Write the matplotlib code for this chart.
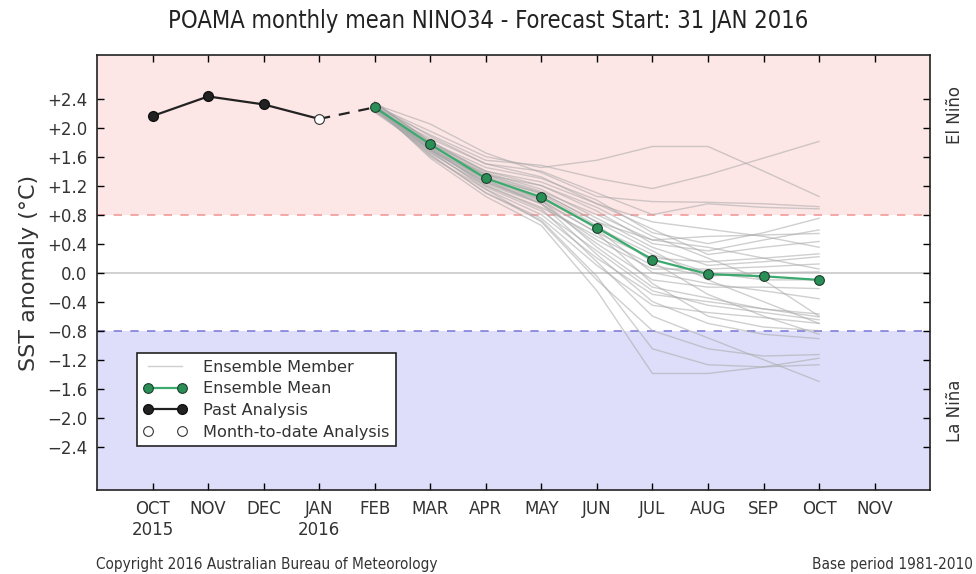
import matplotlib
matplotlib.use("Agg")
import matplotlib.pyplot as plt
import numpy as np

# month labels along the x axis
months = ["OCT\n2015", "NOV", "DEC", "JAN\n2016", "FEB", "MAR", "APR",
          "MAY", "JUN", "JUL", "AUG", "SEP", "OCT", "NOV"]

# past analysis (OCT-DEC) and month-to-date (JAN)
past_values = [2.16, 2.43, 2.32]
mtd_value = 2.12

# ensemble mean, FEB..OCT
mean_values = [2.28, 1.77, 1.30, 1.04, 0.62, 0.18, -0.02, -0.05, -0.10]

# ensemble members, FEB..OCT
members = [
    [2.30, 1.95, 1.60, 1.45, 1.55, 1.74, 1.74, 1.40, 1.05],
    [2.28, 1.90, 1.55, 1.48, 1.30, 1.16, 1.35, 1.58, 1.81],
    [2.32, 2.05, 1.65, 1.38, 1.05, 0.98, 0.97, 0.95, 0.91],
    [2.25, 1.85, 1.50, 1.40, 1.10, 0.80, 0.95, 0.90, 0.88],
    [2.35, 1.80, 1.45, 1.30, 1.00, 0.55, 0.40, 0.55, 0.75],
    [2.27, 1.75, 1.35, 1.20, 0.85, 0.40, 0.30, 0.45, 0.59],
    [2.30, 1.70, 1.30, 1.10, 0.70, 0.45, 0.50, 0.52, 0.54],
    [2.22, 1.78, 1.40, 1.25, 0.95, 0.60, 0.25, 0.35, 0.43],
    [2.30, 1.68, 1.25, 1.00, 0.55, 0.20, 0.15, 0.20, 0.26],
    [2.33, 1.82, 1.38, 1.15, 0.75, 0.35, 0.10, 0.15, 0.22],
    [2.26, 1.72, 1.28, 0.95, 0.45, 0.05, 0.05, 0.08, 0.12],
    [2.29, 1.65, 1.20, 0.90, 0.50, 0.10, -0.05, 0.00, 0.01],
    [2.24, 1.70, 1.22, 0.95, 0.40, -0.10, -0.20, -0.20, -0.22],
    [2.31, 1.74, 1.30, 1.05, 0.60, 0.00, -0.15, -0.25, -0.36],
    [2.28, 1.60, 1.15, 0.80, 0.20, -0.30, -0.40, -0.50, -0.57],
    [2.36, 1.76, 1.32, 1.00, 0.35, -0.20, -0.35, -0.50, -0.61],
    [2.23, 1.66, 1.18, 0.85, 0.30, -0.25, -0.45, -0.55, -0.65],
    [2.30, 1.62, 1.10, 0.75, 0.10, -0.45, -0.55, -0.62, -0.70],
    [2.27, 1.70, 1.25, 0.95, 0.25, -0.40, -0.70, -0.85, -0.91],
    [2.32, 1.68, 1.15, 0.70, -0.10, -0.80, -1.05, -1.15, -1.13],
    [2.25, 1.63, 1.10, 0.72, -0.05, -1.05, -1.27, -1.30, -1.27],
    [2.30, 1.58, 1.05, 0.65, -0.25, -1.39, -1.39, -1.30, -1.18],
    [2.29, 1.72, 1.20, 0.88, 0.15, -0.60, -0.90, -1.20, -1.50],
    [2.26, 1.75, 1.35, 1.10, 0.70, 0.30, -0.10, -0.40, -0.70],
    [2.34, 1.80, 1.40, 1.20, 0.90, 0.50, 0.20, -0.10, -0.60],
    [2.28, 1.77, 1.33, 1.08, 0.65, 0.15, -0.30, -0.60, -0.85],
    [2.21, 1.69, 1.24, 0.98, 0.55, -0.15, -0.60, -0.75, -0.80],
    [2.33, 1.88, 1.50, 1.32, 0.95, 0.70, 0.60, 0.50, 0.35],
    [2.27, 1.73, 1.27, 1.02, 0.62, 0.25, 0.00, -0.10, -0.10],
    [2.30, 1.79, 1.36, 1.12, 0.80, 0.45, 0.35, 0.20, 0.05],
]

y_ticks = np.arange(-2.4, 2.41, 0.4)

x_past = np.arange(0, 3)
x_mtd = 3
x_fc = np.arange(4, 13)

fig = plt.figure(figsize=(9.76, 5.74), dpi=100)
ax = fig.add_axes([0.0994, 0.146, 0.8536, 0.758])
ax.set_xlim(-1, 14)
ax.set_ylim(-3, 3)

# El Nino / La Nina shading
ax.axhspan(0.8, 3, color="#fde6e6", zorder=0, lw=0)
ax.axhspan(-3, -0.8, color="#dedefa", zorder=0, lw=0)
ax.axhline(0.8, color="#f49a9a", ls=(0, (5, 5)), lw=1.2, zorder=1)
ax.axhline(-0.8, color="#7f7fdc", ls=(0, (5, 5)), lw=1.2, zorder=1)
ax.axhline(0, color="#c8c8c8", lw=1.2, zorder=1)

for i, m in enumerate(members):
    ax.plot(x_fc, m, color="#a8a8a8", alpha=0.55, lw=1,
            label="Ensemble Member" if i == 0 else None, zorder=2)

ax.plot(x_fc, mean_values, color="#3caa6e", lw=1.6, marker="o", ms=7,
        mfc="#2a8f57", mec="#1e3d2c", mew=0.8, label="Ensemble Mean", zorder=4)
ax.plot(x_past, past_values, color="#222222", lw=1.6, marker="o", ms=7,
        mfc="#222222", mec="#111111", label="Past Analysis", zorder=4)
# link from past analysis to month-to-date, then dashed to forecast start
ax.plot([x_past[-1], x_mtd], [past_values[-1], mtd_value], color="#222222", lw=1.6, zorder=3)
ax.plot([x_mtd, x_fc[0]], [mtd_value, mean_values[0]], color="#222222", lw=1.6,
        ls=(0, (5, 4)), zorder=3)
ax.plot([x_mtd], [mtd_value], ls="none", marker="o", ms=7, mfc="white",
        mec="#333333", mew=0.8, label="Month-to-date Analysis", zorder=5)

ax.set_xticks(np.arange(len(months)))
ax.set_xticklabels(months, fontsize=12, color="#333333")
ax.set_yticks(y_ticks)
ylabels = []
for v in y_ticks:
    v = round(v, 1)
    if v > 0:
        ylabels.append(f"+{v:.1f}")
    elif v == 0:
        ylabels.append("0.0")
    else:
        ylabels.append(f"\u2212{abs(v):.1f}")
ax.set_yticklabels(ylabels, fontsize=12, color="#333333")
ax.tick_params(direction="in", top=True, right=True, length=5, width=1, pad=7)
for s in ax.spines.values():
    s.set_linewidth(1.2)
    s.set_color("#222222")

ax.set_ylabel("SST anomaly (\u00b0C)", fontsize=16, color="#333333", labelpad=6)
fig.suptitle("POAMA monthly mean NINO34 - Forecast Start: 31 JAN 2016",
             fontsize=17, fontstretch="condensed", color="#222222", y=0.985)

leg = ax.legend(loc="lower left", bbox_to_anchor=(0.048, 0.101), borderaxespad=0,
                numpoints=2, fontsize=11.6, frameon=True, fancybox=False,
                handlelength=2.7, handletextpad=1.0, borderpad=0.4,
                labelspacing=0.42)
leg.get_frame().set_edgecolor("#222222")
leg.get_frame().set_linewidth(1.2)
leg.get_frame().set_facecolor("white")
leg.get_frame().set_alpha(1)
for t in leg.get_texts():
    t.set_color("#333333")

fig.text(0.978, 0.80, "El Ni\u00f1o", rotation=90, ha="center", va="center",
         fontsize=12, color="#333333")
fig.text(0.978, 0.285, "La Ni\u00f1a", rotation=90, ha="center", va="center",
         fontsize=12, color="#333333")
fig.text(0.098, 0.009, "Copyright 2016 Australian Bureau of Meteorology",
         fontsize=11, fontstretch="condensed", color="#333333")
fig.text(0.997, 0.009, "Base period 1981-2010", ha="right",
         fontsize=11, fontstretch="condensed", color="#333333")

fig.savefig("out.png", dpi=100)
